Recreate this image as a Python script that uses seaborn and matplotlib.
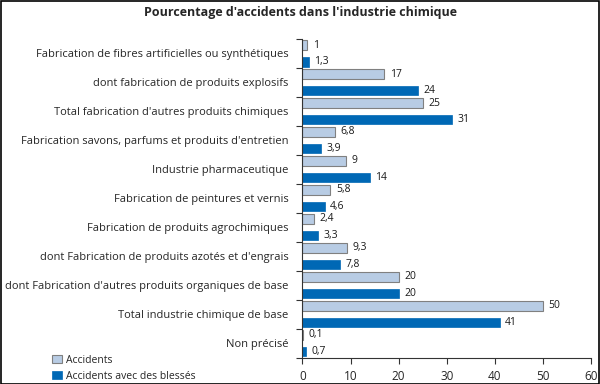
import pandas as pd
import seaborn as sns
import matplotlib.pyplot as plt
from matplotlib.patches import Rectangle


# Data
categories = [
    "Fabrication de fibres artificielles ou synthétiques",
    "dont fabrication de produits explosifs",
    "Total fabrication d'autres produits chimiques",
    "Fabrication savons, parfums et produits d'entretien",
    "Industrie pharmaceutique",
    "Fabrication de peintures et vernis",
    "Fabrication de produits agrochimiques",
    "dont Fabrication de produits azotés et d'engrais",
    "dont Fabrication d'autres produits organiques de base",
    "Total industrie chimique de base",
    "Non précisé",
]
accidents = [1, 17, 25, 6.8, 9, 5.8, 2.4, 9.3, 20, 50, 0.1]
accidents_blesses = [1.3, 24, 31, 3.9, 14, 4.6, 3.3, 7.8, 20, 41, 0.7]
series = ["Accidents", "Accidents avec des blessés"]
colors = ["#b8cce4", "#0068b5"]


# Long table for seaborn
df = pd.DataFrame({
    "categorie": categories * 2,
    "valeur": accidents + accidents_blesses,
    "serie": [series[0]] * len(categories) + [series[1]] * len(categories),
})

sns.set_style("white")
plt.rcParams["font.family"] = ["Open Sans", "DejaVu Sans"]

fig = plt.figure(figsize=(6, 3.84), dpi=100)
ax = fig.add_axes([0.504, 0.0685, 0.481, 0.8305])

sns.barplot(
    data=df, y="categorie", x="valeur", hue="serie",
    order=categories, hue_order=series, palette=colors, saturation=1,
    orient="h", width=1.14, gap=0.4, legend=True, ax=ax,
)

# edges: light bars get a grey outline
for bar in ax.patches[:len(categories)]:
    bar.set_edgecolor("#808080")
    bar.set_linewidth(0.8)
for bar in ax.patches[len(categories):2 * len(categories)]:
    bar.set_edgecolor(colors[1])
    bar.set_linewidth(0.5)

# value labels with comma decimals
for cont in ax.containers:
    labels = [f"{b.get_width():g}".replace(".", ",") for b in cont]
    ax.bar_label(cont, labels=labels, padding=4, fontsize=7.5, color="#1a1a1a")

ax.set_xlim(0, 60)
ax.set_ylim(len(categories) - 0.5, -0.5)
ax.set_xticks(range(0, 61, 10))
ax.set_xlabel("")
ax.set_ylabel("")

# category labels without tick marks, ticks at category edges
ax.set_yticks(range(len(categories)))
ax.set_yticklabels(categories, fontsize=8)
ax.tick_params(axis="y", which="major", left=True, length=0, pad=10)
ax.set_yticks([i - 0.5 for i in range(len(categories) + 1)], minor=True)
ax.tick_params(axis="y", which="minor", left=True, length=4, width=0.8, color="#333333")
ax.tick_params(axis="x", bottom=True, length=4, width=0.8, color="#333333",
               labelsize=8.5, pad=5)

for side in ["top", "right"]:
    ax.spines[side].set_visible(False)
for side in ["left", "bottom"]:
    ax.spines[side].set_color("#333333")
    ax.spines[side].set_linewidth(0.8)

# legend in the lower left corner of the figure
ax.get_legend().remove()
handles = [Rectangle((0, 0), 1, 1, facecolor=colors[0], edgecolor="#808080", lw=0.8),
           Rectangle((0, 0), 1, 1, facecolor=colors[1], edgecolor=colors[1], lw=0.5)]
fig.legend(handles, series, loc="lower left", bbox_to_anchor=(0.08, -0.005),
           frameon=False, fontsize=7.5, handlelength=0.9, handleheight=0.9,
           handletextpad=0.4, labelspacing=0.5, borderaxespad=0)

fig.suptitle("Pourcentage d'accidents dans l'industrie chimique",
             x=0.5, y=0.985, fontsize=9, fontweight="bold")

# black frame around the whole picture
fig.patches.append(Rectangle((0.001, 0.001), 0.997, 0.997, transform=fig.transFigure,
                             fill=False, edgecolor="black", lw=1.2))

fig.savefig("out.png", dpi=100)
